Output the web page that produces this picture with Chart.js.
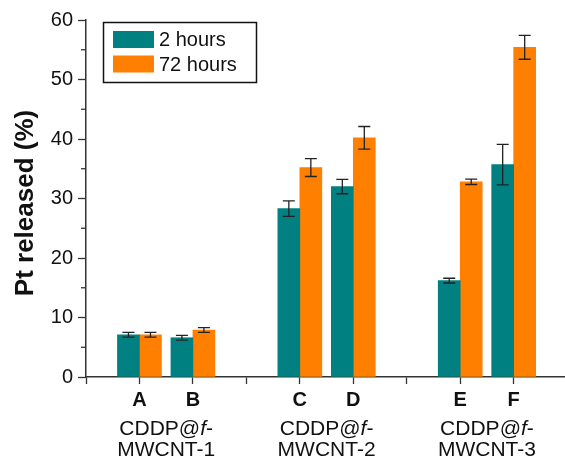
<!DOCTYPE html>
<html>
<head>
<meta charset="utf-8">
<script src="https://cdn.jsdelivr.net/npm/chart.js@4"></script>
<style>
  html, body { margin: 0; padding: 0; background: #fff; }
  #wrap { width: 565px; height: 461px; }
</style>
</head>
<body>
<div id="wrap"><canvas id="ptChart" width="565" height="461"></canvas></div>
<script>
// data
const categories = ['A', 'B', 'C', 'D', 'E', 'F'];
const slots = [1, 2, 4, 5, 7, 8];
const groupNames = ['MWCNT-1', 'MWCNT-2', 'MWCNT-3'];
const groupSlots = [1.5, 4.5, 7.5];
const hours2 = [7.1, 6.6, 28.3, 32.0, 16.2, 35.7];
const hours2Err = [0.4, 0.4, 1.3, 1.2, 0.4, 3.4];
const hours72 = [7.1, 7.9, 35.2, 40.2, 32.8, 55.4];
const hours72Err = [0.4, 0.4, 1.5, 1.9, 0.45, 2.0];
const yMinor = [5, 15, 25, 35, 45, 55];

const FONT = "'Liberation Sans', Arial, sans-serif";
const AXIS = '#333';

function points(vals) {
    return vals.map((v, i) => ({ x: slots[i], y: v }));
}

// error bars from the err arrays
const errorBars = {
    id: 'errorBars',
    afterDatasetsDraw(chart) {
        const ctx = chart.ctx;
        const y = chart.scales.y;
        chart.data.datasets.forEach((ds, di) => {
            const meta = chart.getDatasetMeta(di);
            meta.data.forEach((bar, i) => {
                const v = ds.data[i].y, e = ds.err[i];
                const top = y.getPixelForValue(v + e);
                const bot = y.getPixelForValue(v - e);
                ctx.save();
                ctx.strokeStyle = '#222';
                ctx.lineWidth = 1.3;
                ctx.beginPath();
                ctx.moveTo(bar.x, top); ctx.lineTo(bar.x, bot);
                ctx.moveTo(bar.x - 6, top); ctx.lineTo(bar.x + 6, top);
                ctx.moveTo(bar.x - 6, bot); ctx.lineTo(bar.x + 6, bot);
                ctx.stroke();
                ctx.restore();
            });
        });
    }
};

// minor y ticks, y title, group captions, boxed legend
const extras = {
    id: 'extras',
    afterDraw(chart) {
        const ctx = chart.ctx;
        const x = chart.scales.x, y = chart.scales.y;
        const left = chart.chartArea.left;
        ctx.save();
        ctx.strokeStyle = AXIS;
        ctx.lineWidth = 1.3;
        yMinor.forEach(v => {
            const py = y.getPixelForValue(v);
            ctx.beginPath();
            ctx.moveTo(left - 5, py); ctx.lineTo(left, py);
            ctx.stroke();
        });

        // y title
        ctx.save();
        ctx.translate(33, 203);
        ctx.rotate(-Math.PI / 2);
        ctx.fillStyle = '#111';
        ctx.font = 'bold 26px ' + FONT;
        ctx.textAlign = 'center';
        ctx.textBaseline = 'alphabetic';
        ctx.fillText('Pt released (%)', 0, 0);
        ctx.restore();

        ctx.fillStyle = '#111';
        ctx.textBaseline = 'alphabetic';
        ctx.textAlign = 'left';
        const reg = '21px ' + FONT, ita = 'italic 21px ' + FONT;
        groupSlots.forEach((s, gi) => {
            const cx = x.getPixelForValue(s);
            const parts = [['CDDP@', reg], ['f', ita], ['-', reg]];
            let w = 0;
            parts.forEach(p => { ctx.font = p[1]; w += ctx.measureText(p[0]).width; });
            let px = cx - w / 2;
            parts.forEach(p => {
                ctx.font = p[1];
                ctx.fillText(p[0], px, 435);
                px += ctx.measureText(p[0]).width;
            });
            ctx.font = reg;
            ctx.textAlign = 'center';
            ctx.fillText(groupNames[gi], cx, 456);
            ctx.textAlign = 'left';
        });

        // legend
        ctx.strokeStyle = '#111';
        ctx.lineWidth = 1.5;
        ctx.strokeRect(103.5, 22.5, 153, 60);
        chart.data.datasets.forEach((ds, i) => {
            const cy = 39.5 + i * 24.5;
            ctx.fillStyle = ds.backgroundColor;
            ctx.fillRect(113, cy - 8.5, 41, 17);
            ctx.fillStyle = '#111';
            ctx.font = '20px ' + FONT;
            ctx.textBaseline = 'middle';
            ctx.fillText(ds.label, 159, cy + 1);
        });
        ctx.restore();
    }
};

const ctx = document.getElementById('ptChart').getContext('2d');
const ptChart = new Chart(ctx, {
    type: 'bar',
    data: {
        datasets: [
        {
            label: '2 hours',
            data: points(hours2),
            err: hours2Err,
            backgroundColor: '#008080',
            barThickness: 22
        },
        {
            label: '72 hours',
            data: points(hours72),
            err: hours72Err,
            backgroundColor: '#FF8000',
            barThickness: 22
        }
        ]
    },
    options: {
        responsive: false,
        animation: false,
        layout: { padding: { top: 20, right: 0, left: 0, bottom: 0 } },
        plugins: {
            legend: { display: false },
            tooltip: { enabled: false }
        },
        scales: {
            x: {
                type: 'linear',
                min: 0,
                max: 8.96,
                offset: false,
                afterFit: s => { s.height = 84; },
                border: { color: AXIS, width: 1.5 },
                grid: { display: true, offset: false, drawOnChartArea: false, tickLength: 7, color: AXIS, tickWidth: 1.3 },
                ticks: {
                    stepSize: 1,
                    includeBounds: false,
                    autoSkip: false,
                    maxRotation: 0,
                    padding: 4,
                    color: '#111',
                    font: { family: FONT, size: 20, weight: 'bold' },
                    callback: v => {
                        const i = slots.indexOf(v);
                        return i >= 0 ? categories[i] : '';
                    }
                }
            },
            y: {
                min: 0,
                max: 60,
                afterFit: s => { s.width = 86; },
                border: { color: AXIS, width: 1.5 },
                grid: { display: true, drawOnChartArea: false, tickLength: 8, color: AXIS, tickWidth: 1.3 },
                ticks: {
                    stepSize: 10,
                    padding: 5,
                    color: '#111',
                    font: { family: FONT, size: 20 }
                }
            }
        }
    },
    plugins: [errorBars, extras]
});
</script>
</body>
</html>
